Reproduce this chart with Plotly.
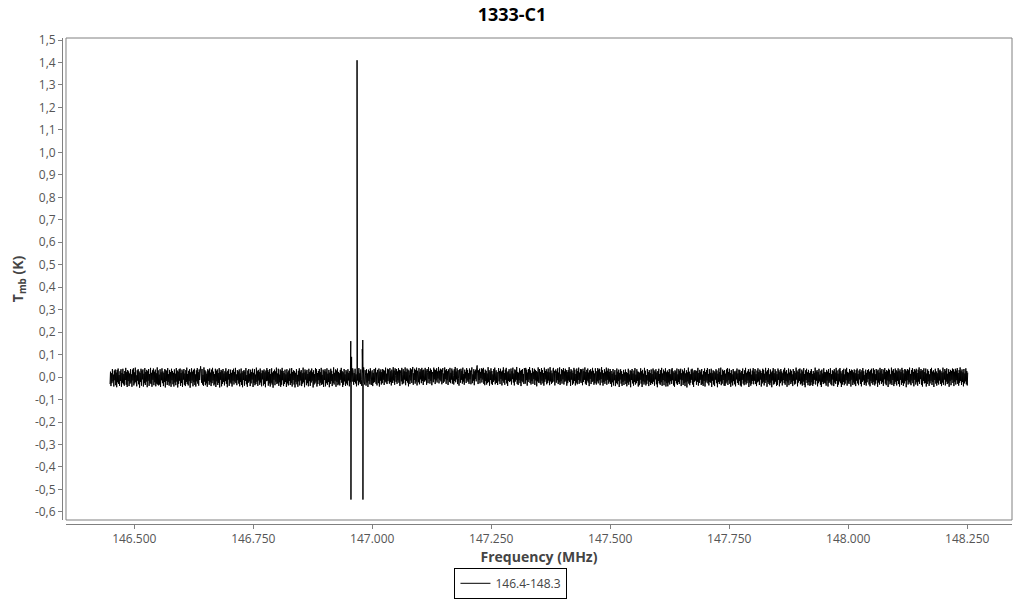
import numpy as np
import plotly.graph_objects as go

# ---------------- data ----------------
title_text = "1333-C1"
series_name = "146.4-148.3"

# channel grid of the spectrum (MHz)
freq_start = 146.449
freq_end = 148.251

# baseline noise, in mK, one value per channel
noise_mk_text = """
-31 24 -40 17 -27 36 -19 11 -42 29 -14 34 -36 20 -45 32 -23 38 -30 9 -39 26 -17 35 -43 18 -25 37 -32 14
-38 27 -13 41 -34 22 -44 31 -18 25 -40 16 -29 36 -24 12 -43 33 -15 39 -37 21 -28 42 -22 8 -41 30 -16 35
-32 25 -47 18 -21 37 -38 29 -10 34 -42 15 -27 40 -35 23 -20 32 -45 26 -16 36 -39 13 -26 41 -31 19 -43 30
-12 38 -36 24 -23 33 -41 17 -29 43 -33 30 -37 11 -33 35 -44 21 -14 39 -27 25 -40 18 -22 36 -46 31 -17 28
-35 40 -21 13 -38 32 -28 22 -43 37 -14 27 -32 19 -42 34 -24 15 -36 40 -20 29 -46 24 -30 35 -16 38 -39 18
-26 33 -44 25 -11 36 -34 16 -40 31 -22 42 -31 14 -37 28 -18 35 -47 21 -27 39 -15 24 -41 32 -23 37 -35 12
-42 30 -19 40 -29 22 -38 34 -13 27 48 17 -25 36 -33 10 -39 43 -20 31 -36 25 -28 15 -43 35 -17 29 -34 38
-23 20 -40 33 -27 41 -15 24 -37 13 -31 37 -44 28 -19 34 -35 18 -26 40 -46 22 -12 32 -41 27 -30 36 -21 16
-37 26 -18 39 -30 21 -45 28 -11 35 -39 14 -24 33 -29 19 -42 30 -16 37 -33 23 -20 41 -27 12 -36 31 -14 25
-29 34 -41 16 -22 38 -35 20 -45 27 -13 31 -38 24 -17 40 -32 9 -43 29 -25 36 -19 15 -40 33 -28 22 -11 37
-44 19 -26 35 -36 11 -31 42 -21 26 -39 32 -15 23 -34 38 -24 17 -41 30 -10 27 -37 34 -30 21 -45 29 -18 40
-16 31 -38 23 -28 36 -42 14 -25 39 -33 20 -47 26 -12 33 -36 25 -20 42 -31 16 -27 37 -39 11 -23 34 -43 28
-34 41 -14 27 -40 18 -30 33 -22 12 -44 35 -28 21 -37 29 -17 38 -35 15 -26 40 -42 23 -13 30 -33 26 -46 19
-21 36 -32 10 -43 28 -19 39 -37 24 -15 31 -40 17 -29 42 -23 20 -45 34 -11 25 -36 32 -27 14 -41 37 -18 22
-39 29 -24 38 -16 21 -46 30 -33 13 -28 40 -20 35 -42 18 -31 27 -14 36 -38 22 -25 41 -35 10 -30 33 -44 26
-13 35 -41 24 -27 39 -34 15 -22 32 -45 20 -30 37 -18 28 -40 13 -26 43 -33 19 -16 34 -43 29 -21 38 -36 23
-30 17 -37 32 -12 41 -25 26 -44 21 -34 36 -19 12 -39 31 -28 24 -36 35 -15 18 -41 27 -23 37 -32 14 -20 39
27 -34 18 -21 37 -28 12 -41 32 -15 24 -36 40 -23 17 -31 34 -10 -39 28 21 -29 43 -18 -33 31 9 -38 35 -24
16 -44 33 -17 26 -32 39 -11 -35 23 30 -40 19 -26 36 -22 -13 41 -30 20 -37 32 10 -27 38 -42 25 -16 34 -33
22 -27 36 -12 31 -35 28 -20 42 -24 15 -31 37 -17 34 -9 -29 40 -22 26 -37 33 19 -26 44 -15 29 -34 39 8
-21 36 -30 25 -14 40 -25 32 -39 18 30 -19 41 -32 13 35 -28 26 -11 43 -36 23 -17 38 -24 33 -41 29 10 -31
39 -15 34 -26 21 45 -34 17 -13 37 -29 31 -20 42 -37 28 11 -23 40 -32 24 -10 35 -27 41 -17 30 -35 33 14
-20 41 -14 29 -34 36 20 -27 44 -8 26 -29 38 -17 32 -36 23 13 -23 42 -10 34 -31 31 -15 39 -24 25 -6 45
-28 28 -12 37 -19 33 -32 21 40 -26 16 -20 43 -9 30 -30 36 -14 26 -35 34 10 -21 41 -27 19 -11 38 -29 29
7 -33 35 -17 45 -23 25 -10 39 -31 31 -7 -38 34 18 -25 37 -12 28 -29 42 -20 14 -34 33 -6 23 -26 40 -15
32 -21 17 -30 38 -10 29 -32 22 43 -27 12 -16 35 -36 26 -9 33 -19 41 52 18 -31 30 -13 37 -28 23 -5 39
-24 35 -11 41 -30 19 -36 33 -18 28 -33 16 -26 44 -21 31 -38 24 -13 39 -29 27 -35 12 -22 36 -15 42 -32 20
30 -26 22 -35 13 40 -19 27 -31 37 -8 24 -37 29 -16 43 -25 18 -34 33 -12 41 -28 21 -39 26 -17 35 -22 15
-18 38 -33 26 -9 42 -24 16 -37 34 -20 30 -12 45 -30 23 -35 19 -14 39 -27 28 -40 31 -17 36 -23 14 -31 40
25 -29 41 -14 33 -38 20 -22 36 -11 44 -26 29 -33 17 -18 40 -30 24 -9 37 -35 32 -15 27 -41 22 -19 43 -25
-12 36 -27 23 -34 40 -16 31 -28 18 -38 42 -21 27 -10 35 -32 24 -26 38 -15 21 -36 44 -19 29 -30 17 -24 33
41 -20 28 -37 15 34 -25 26 -14 39 -31 20 -23 43 -35 12 -18 36 -29 30 -10 40 -33 25 -21 37 -16 31 -38 22
-27 31 -15 44 -22 24 -39 35 -11 29 -34 19 -28 41 -17 33 -37 14 -25 38 -32 27 -13 42 -30 20 -19 36 -26 34
18 -36 37 -21 27 -12 43 -29 23 -35 32 -16 38 -24 20 -40 30 -8 35 -31 25 -22 41 -18 28 -34 16 -27 39 -13
-33 26 -19 40 -28 33 -14 37 -36 21 -9 44 -25 30 -38 17 -22 35 -30 24 -16 42 -34 28 -12 38 -29 23 -20 36
-30 27 -43 15 -23 36 -37 21 -14 31 -40 10 -26 38 -32 24 -18 33 -44 19 -11 35 -29 26 -39 13 -21 32 -35 20
-16 34 -31 22 -41 18 -25 37 -34 12 -20 30 -45 27 -13 36 -28 16 -38 29 -22 40 -33 11 -27 35 -17 25 -42 23
-36 19 -12 39 -29 26 -44 32 -19 15 -33 41 -24 28 -37 9 -30 36 -15 22 -40 31 -21 18 -35 34 -26 13 -31 38
-20 30 -38 24 -10 35 -32 20 -45 27 -17 37 -28 14 -34 31 -23 41 -39 16 -13 33 -36 25 -19 39 -42 21 -27 29
-41 22 -24 36 -33 13 -18 34 -30 40 -14 26 -37 19 -43 30 -16 25 -28 38 -35 12 -22 35 -31 28 -11 37 -40 17
-14 33 -35 25 -27 39 -40 16 -23 30 -46 21 -19 42 -29 24 -36 13 -25 34 -12 37 -33 20 -44 29 -20 31 -15 26
-34 28 -21 41 -38 18 -26 32 -12 24 -35 36 -30 11 -39 27 -17 38 -42 22 -24 31 -15 40 -28 14 -37 35 -22 19
-25 37 -44 17 -16 30 -33 26 -40 20 -11 35 -27 29 -45 15 -22 39 -31 23 -19 42 -36 10 -29 33 -13 27 -38 31
-39 15 -28 34 -20 40 -35 23 -14 37 -30 18 -43 31 -24 12 -37 36 -18 26 -32 21 -41 28 -10 38 -26 16 -34 33
-18 32 -37 20 -42 27 -12 38 -29 14 -36 30 -21 41 -33 19 -27 25 -15 35 -44 23 -25 37 -38 11 -30 29 -17 40
-32 24 -16 36 -31 13 -40 29 -23 39 -19 22 -35 33 -11 27 -42 18 -28 37 -21 32 -37 15 -26 41 -14 24 -43 30
-22 39 -30 12 -36 34 -25 21 -45 28 -15 40 -33 17 -29 35 -20 26 -39 13 -34 38 -12 30 -41 22 -27 36 -19 25
-37 17 -13 33 -27 41 -34 24 -18 31 -43 15 -24 38 -36 20 -14 34 -31 28 -23 12 -40 36 -16 27 -33 19 -29 42
-11 29 -41 23 -24 35 -17 38 -32 16 -28 33 -38 25 -20 40 -35 14 -45 30 -13 37 -26 21 -36 32 -22 18 -39 26
-35 36 -23 14 -39 27 -30 19 -12 42 -33 25 -16 31 -41 22 -27 37 -19 11 -34 28 -44 33 -21 16 -31 39 -25 23
-28 21 -38 32 -15 24 -42 36 -26 18 -20 39 -32 13 -37 30 -11 26 -40 35 -24 20 -30 41 -17 29 -43 15 -33 34
-19 40 -27 26 -44 16 -33 31 -22 37 -36 12 -29 34 -14 41 -38 23 -25 19 -31 36 -18 27 -42 33 -12 30 -35 21
-24 34 -32 17 -40 31 -16 38 -28 14 -36 29 -10 35 -30 22 -41 30 -21 40 -15 26 -35 10 -27 33 -38 19 -23 31
-9 35 -33 24 -41 30 -17 37 -27 16 -34 39 -21 32 -37 13 -29 36 -14 28 -43 33 -24 20 -33 41 -16 29 -30 36
-23 15 -39 33 -10 40 -29 23 -36 31 -15 26 -44 37 -19 32 -32 12 -26 42 -35 28 -13 35 -40 19 -30 38 -21 30
-37 25 -17 39 -31 27 -42 34 -12 22 -34 41 -25 31 -39 16 -28 36 -18 33 -45 26 -14 36 -33 30 -22 42 -29 14
-36 31 -15 40 -27 23 -41 35 -12 29 -33 37 -23 18 -38 33 -20 43 -30 26 -9 36 -34 28 -42 31 -17 39 -28 22
-26 38 -42 16 -31 34 -19 27 -39 12 -28 35 -16 41 -35 24 -22 30 -44 20 -13 37 -29 25 -38 17 -25 40 -33 29
-15 33 -30 26 -40 19 -24 42 -34 21 -11 36 -37 28 -20 39 -31 15 -27 35 -43 23 -18 32 -36 27 -12 38 -26 34
-40 24 -21 37 -33 29 -14 40 -30 18 -38 31 -25 43 -17 26 -35 34 -22 21 -41 36 -28 16 -19 39 -32 27 -37 20
"""
noise_mk = [int(v) for v in noise_mk_text.split()]

# spike channels (MHz) and their values (K)
spike_freqs = [146.9548, 146.9552, 146.9565, 146.9680, 146.9790, 146.9800, 146.9804]
spike_vals = [0.160, -0.545, 0.090, 1.410, 0.125, 0.165, -0.545]

# axis ticks
x_tick_vals = [146.5, 146.75, 147.0, 147.25, 147.5, 147.75, 148.0, 148.25]
y_tick_vals = [-0.6, -0.5, -0.4, -0.3, -0.2, -0.1, 0.0, 0.1, 0.2, 0.3, 0.4, 0.5,
               0.6, 0.7, 0.8, 0.9, 1.0, 1.1, 1.2, 1.3, 1.4, 1.5]
y_tick_labels = ["-0,6", "-0,5", "-0,4", "-0,3", "-0,2", "-0,1", "0,0", "0,1", "0,2", "0,3", "0,4", "0,5",
                 "0,6", "0,7", "0,8", "0,9", "1,0", "1,1", "1,2", "1,3", "1,4", "1,5"]

# ---------------- build series ----------------
noise_freqs = np.linspace(freq_start, freq_end, len(noise_mk))
noise_vals = np.array(noise_mk) / 1000.0
all_f = np.concatenate([noise_freqs, np.array(spike_freqs)])
all_v = np.concatenate([noise_vals, np.array(spike_vals)])
order = np.argsort(all_f, kind="stable")
freqs = all_f[order]
tmb = all_v[order]

FONT = "Open Sans, Noto Sans, sans-serif"
AXIS_GRAY = "#808080"

fig = go.Figure()
fig.add_trace(go.Scatter(
    x=freqs, y=tmb, mode="lines", name=series_name,
    line=dict(color="black", width=1, simplify=False), showlegend=True,
))

fig.update_layout(
    width=1024, height=600,
    paper_bgcolor="white", plot_bgcolor="white",
    margin=dict(l=62, r=12, t=38, b=76, autoexpand=False),
    title=dict(text="<b>" + title_text + "</b>", x=0.5, xanchor="center",
               y=0.975, yanchor="middle",
               font=dict(family=FONT, size=18, color="black")),
    font=dict(family=FONT, size=12, color="#444"),
    showlegend=True,
    legend=dict(orientation="h", xref="container", yref="container",
                x=0.499, xanchor="center", y=0.002, yanchor="bottom",
                bordercolor="black", borderwidth=1, bgcolor="white",
                font=dict(family=FONT, size=12, color="#444"),
                itemwidth=30, valign="middle"),
    xaxis=dict(
        domain=[0.0042, 1], anchor="free", position=0,
        range=[146.3565, 148.344], automargin=False,
        tickvals=x_tick_vals, tickformat=".3f",
        showline=True, linecolor=AXIS_GRAY, linewidth=1,
        ticks="outside", ticklen=4, tickcolor=AXIS_GRAY,
        showgrid=False, zeroline=False,
        tickfont=dict(family=FONT, size=12, color="#555"),
        title=dict(text="<b>Frequency (MHz)</b>", standoff=5,
                   font=dict(family=FONT, size=14, color="#444")),
    ),
    yaxis=dict(
        domain=[0.0082, 1], anchor="free", position=0,
        range=[-0.636, 1.509], automargin=False,
        tickvals=y_tick_vals, ticktext=y_tick_labels,
        showline=True, linecolor=AXIS_GRAY, linewidth=1,
        ticks="outside", ticklen=4, tickcolor=AXIS_GRAY,
        showgrid=False, zeroline=False,
        tickfont=dict(family=FONT, size=12, color="#555"),
        title=dict(text="<b>T<sub>mb</sub> (K)</b>", standoff=6,
                   font=dict(family=FONT, size=14, color="#444")),
    ),
)

# plot-area frame
fig.add_shape(type="rect", xref="x domain", yref="y domain",
              x0=0, x1=1, y0=0, y1=1,
              line=dict(color=AXIS_GRAY, width=1), fillcolor="rgba(0,0,0,0)",
              layer="above")

fig.write_html("out.html", config={"displayModeBar": False},
               post_script="document.body.style.margin='0';")
